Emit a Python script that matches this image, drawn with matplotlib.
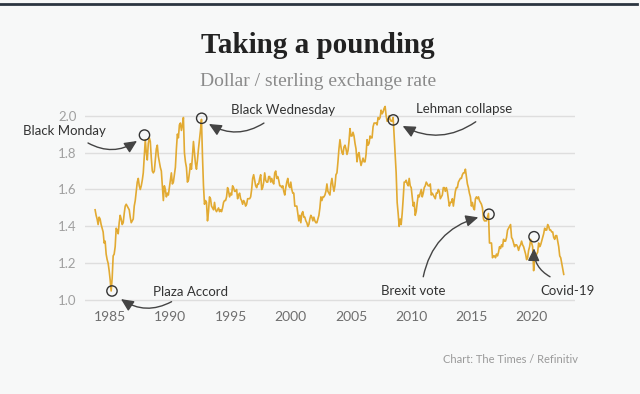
import numpy as np
import pandas as pd
import matplotlib
matplotlib.use("Agg")
import matplotlib.pyplot as plt
from matplotlib.lines import Line2D

# ---------------------------------------------------------------------------
# Data: monthly GBP/USD readings, Oct 1983 -> Sep 2022
# ---------------------------------------------------------------------------
START = "1983-10-01"
gbp_usd = [
    1.49, 1.46, 1.44,                                                        # 1983
    1.41, 1.45, 1.44, 1.41, 1.39, 1.37, 1.31, 1.32, 1.25, 1.22, 1.20, 1.16,  # 1984
    1.11, 1.05, 1.12, 1.24, 1.25, 1.29, 1.39, 1.38, 1.36, 1.42, 1.46, 1.44,  # 1985
    1.41, 1.42, 1.47, 1.51, 1.52, 1.51, 1.50, 1.49, 1.45, 1.42, 1.43, 1.44,  # 1986
    1.51, 1.54, 1.59, 1.64, 1.66, 1.62, 1.60, 1.62, 1.65, 1.69, 1.78, 1.87,  # 1987
    1.80, 1.76, 1.85, 1.88, 1.86, 1.77, 1.70, 1.69, 1.70, 1.76, 1.82, 1.84,  # 1988
    1.78, 1.75, 1.72, 1.70, 1.62, 1.54, 1.62, 1.60, 1.56, 1.58, 1.57, 1.61,  # 1989
    1.65, 1.69, 1.63, 1.64, 1.68, 1.72, 1.82, 1.90, 1.88, 1.95, 1.96, 1.92,  # 1990
    1.95, 1.99, 1.80, 1.75, 1.72, 1.64, 1.65, 1.69, 1.74, 1.71, 1.78, 1.86,  # 1991
    1.80, 1.74, 1.71, 1.76, 1.82, 1.87, 1.92, 1.98, 1.78, 1.62, 1.52, 1.54,  # 1992
    1.53, 1.43, 1.48, 1.56, 1.55, 1.51, 1.50, 1.49, 1.53, 1.49, 1.48, 1.49,  # 1993
    1.50, 1.48, 1.49, 1.48, 1.50, 1.53, 1.54, 1.54, 1.56, 1.61, 1.59, 1.56,  # 1994
    1.58, 1.57, 1.62, 1.61, 1.59, 1.59, 1.60, 1.55, 1.57, 1.58, 1.55, 1.54,  # 1995
    1.52, 1.54, 1.53, 1.51, 1.52, 1.55, 1.55, 1.55, 1.56, 1.60, 1.66, 1.68,  # 1996
    1.65, 1.62, 1.61, 1.63, 1.63, 1.66, 1.68, 1.60, 1.61, 1.64, 1.69, 1.65,  # 1997
    1.64, 1.64, 1.67, 1.67, 1.64, 1.66, 1.64, 1.63, 1.69, 1.70, 1.66, 1.67,  # 1998
    1.65, 1.62, 1.62, 1.61, 1.62, 1.59, 1.57, 1.61, 1.64, 1.66, 1.62, 1.61,  # 1999
    1.64, 1.60, 1.58, 1.58, 1.51, 1.51, 1.51, 1.47, 1.43, 1.46, 1.42, 1.47,  # 2000
    1.48, 1.45, 1.45, 1.43, 1.42, 1.40, 1.41, 1.44, 1.46, 1.45, 1.43, 1.45,  # 2001
    1.43, 1.42, 1.42, 1.44, 1.46, 1.50, 1.56, 1.54, 1.56, 1.56, 1.57, 1.59,  # 2002
    1.63, 1.59, 1.58, 1.57, 1.63, 1.66, 1.62, 1.59, 1.62, 1.68, 1.69, 1.75,  # 2003
    1.82, 1.87, 1.83, 1.80, 1.79, 1.83, 1.84, 1.82, 1.79, 1.81, 1.86, 1.93,  # 2004
    1.89, 1.89, 1.91, 1.89, 1.85, 1.82, 1.75, 1.79, 1.80, 1.76, 1.73, 1.75,  # 2005
    1.77, 1.75, 1.75, 1.79, 1.87, 1.84, 1.85, 1.89, 1.88, 1.88, 1.94, 1.96,  # 2006
    1.96, 1.96, 1.95, 1.99, 1.98, 1.99, 2.03, 2.01, 2.02, 2.04, 2.05, 2.00,  # 2007
    1.97, 1.97, 2.00, 1.98, 1.97, 1.97, 1.99, 1.89, 1.80, 1.69, 1.53, 1.47,  # 2008
    1.40, 1.44, 1.41, 1.47, 1.55, 1.64, 1.64, 1.65, 1.63, 1.62, 1.66, 1.62,  # 2009
    1.61, 1.56, 1.51, 1.53, 1.46, 1.48, 1.53, 1.57, 1.56, 1.58, 1.60, 1.56,  # 2010
    1.58, 1.61, 1.62, 1.64, 1.63, 1.62, 1.62, 1.63, 1.57, 1.58, 1.57, 1.56,  # 2011
    1.55, 1.58, 1.58, 1.60, 1.59, 1.55, 1.56, 1.57, 1.61, 1.61, 1.59, 1.61,  # 2012
    1.59, 1.55, 1.51, 1.53, 1.53, 1.55, 1.51, 1.55, 1.59, 1.61, 1.61, 1.64,  # 2013
    1.65, 1.66, 1.66, 1.68, 1.69, 1.69, 1.71, 1.67, 1.63, 1.61, 1.58, 1.56,  # 2014
    1.51, 1.53, 1.50, 1.49, 1.55, 1.56, 1.55, 1.56, 1.54, 1.53, 1.52, 1.50,  # 2015
    1.44, 1.43, 1.43, 1.43, 1.45, 1.47, 1.31, 1.31, 1.31, 1.23, 1.24, 1.24,  # 2016
    1.23, 1.25, 1.24, 1.26, 1.29, 1.28, 1.30, 1.29, 1.33, 1.32, 1.32, 1.34,  # 2017
    1.38, 1.39, 1.40, 1.41, 1.34, 1.33, 1.31, 1.29, 1.30, 1.30, 1.29, 1.27,  # 2018
    1.29, 1.30, 1.32, 1.30, 1.29, 1.27, 1.25, 1.22, 1.23, 1.27, 1.29, 1.33,  # 2019
    1.31, 1.29, 1.16, 1.24, 1.23, 1.25, 1.26, 1.31, 1.29, 1.30, 1.32, 1.34,  # 2020
    1.36, 1.39, 1.38, 1.38, 1.41, 1.40, 1.38, 1.38, 1.37, 1.37, 1.34, 1.33,  # 2021
    1.35, 1.35, 1.32, 1.29, 1.24, 1.23, 1.20, 1.17, 1.14,                    # 2022
]

# events: label, circle position (decimal year, rate)
event_labels = ["Black Monday", "Black Wednesday", "Plaza Accord",
                "Lehman collapse", "Brexit vote", "Covid-19"]
event_x = [1987.85, 1992.6, 1985.15, 2008.51, 2016.46, 2020.2]
event_y = [1.895, 1.986, 1.05, 1.977, 1.466, 1.344]

# label anchors (left edge, vertical centre) and arrow tail / head
label_x = [1977.76, 1995.0, 1988.55, 2010.4, 2007.47, 2020.7]
label_y = [1.919, 2.031, 1.046, 2.035, 1.05, 1.05]
tail_xy = [(1983.16, 1.852), (1997.77, 1.960), (1990.1, 0.992),
           (2015.36, 1.967), (2011.0, 1.127), (2021.53, 1.127)]
head_xy = [(1987.23, 1.863), (1993.2, 1.955), (1985.9, 1.006),
           (2009.29, 1.944), (2015.57, 1.449), (2020.2, 1.281)]
arc_rad = [0.3, -0.3, -0.3, -0.3, -0.3, -0.3]

year_ticks = [1985, 1990, 1995, 2000, 2005, 2010, 2015, 2020]
rate_ticks = [1.0, 1.2, 1.4, 1.6, 1.8, 2.0]

# ---------------------------------------------------------------------------
BG = "#f7f8f8"
GOLD = "#e2aa32"
INK = "#333333"
ARROW = "#444444"

plt.rcParams["font.family"] = ["Lato", "DejaVu Sans"]

dates = pd.date_range(START, periods=len(gbp_usd), freq="MS")
years = dates.year + (dates.month - 1) / 12

fig = plt.figure(figsize=(6.4, 3.94), dpi=100, facecolor=BG)
ax = fig.add_axes([0.1328, 0.2287, 0.7656, 0.5058])
ax.set_facecolor(BG)

ax.plot(years, gbp_usd, color=GOLD, linewidth=1.2, zorder=3)

ax.set_xlim(1982.91, 2023.6)
ax.set_ylim(0.98, 2.06)
ax.set_xticks(year_ticks)
ax.set_yticks(rate_ticks)
ax.set_yticklabels([f"{v:.1f}" for v in rate_ticks])
for s in ax.spines.values():
    s.set_visible(False)
ax.grid(axis="y", color="#dedede", linewidth=1.0)
ax.grid(axis="x", visible=False)
ax.set_axisbelow(True)
ax.tick_params(axis="both", length=0)
ax.tick_params(axis="x", labelsize=10, labelcolor="#6e6e6e", pad=5)
ax.tick_params(axis="y", labelsize=9.5, labelcolor="#a0a0a0", pad=6)

# event markers, labels and curved arrows
ax.scatter(event_x, event_y, s=55, facecolors="none", edgecolors="#333333",
           linewidths=1.0, zorder=5)
for i, label in enumerate(event_labels):
    ax.text(label_x[i], label_y[i], label, fontsize=9.5, color=INK,
            ha="left", va="center")
    ax.annotate("", xy=head_xy[i], xytext=tail_xy[i], annotation_clip=False,
                arrowprops=dict(arrowstyle="-|>,head_length=0.75,head_width=0.35",
                                color=ARROW, lw=1.0, shrinkA=0, shrinkB=0,
                                connectionstyle=f"arc3,rad={arc_rad[i]}"))

# titles and source
fig.text(0.497, 0.884, "Taking a pounding", ha="center", va="center",
         family="Liberation Serif", weight="bold", fontsize=21, color="#222222")
fig.text(0.497, 0.794, "Dollar / sterling exchange rate", ha="center", va="center",
         family="Liberation Serif", fontsize=14, color="#8a8a8a")
fig.text(0.903, 0.087, "Chart: The Times / Refinitiv", ha="right", va="center",
         fontsize=8, color="#9a9a9a")

# dark rule along the top edge
fig.add_artist(Line2D([0, 0.995], [0.991, 0.991], transform=fig.transFigure,
                      color="#2b3540", linewidth=2))

fig.savefig("out.png", dpi=100, facecolor=BG)
